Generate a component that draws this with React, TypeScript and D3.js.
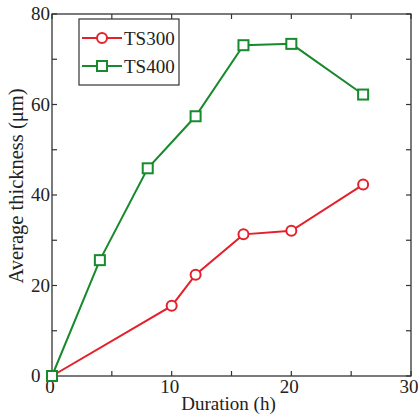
import React, { useRef, useEffect } from "react";
import * as d3 from "d3";

type Pt = { t: number; v: number };

const ts300Hours = [0, 10, 12, 16, 20, 26];
const ts300Values = [0, 15.5, 22.4, 31.3, 32.1, 42.3];
const ts400Hours = [0, 4, 8, 12, 16, 20, 26];
const ts400Values = [0, 25.6, 45.9, 57.4, 73.1, 73.4, 62.2];
const xTicks = [0, 10, 20, 30];
const yTicks = [0, 20, 40, 60, 80];

const W = 418;
const H = 416;
const margin = { top: 14, right: 7, bottom: 40, left: 52 };
const RED = "#e5202a";
const GREEN = "#168a2c";
const FONT = '"Liberation Serif", "DejaVu Serif", "Times New Roman", serif';

const App: React.FC = () => {
  const svgRef = useRef<SVGSVGElement | null>(null);

  useEffect(() => {
    if (!svgRef.current) return;
    const svg = d3.select(svgRef.current);
    svg.selectAll("*").remove();

    const innerWidth = W - margin.left - margin.right;
    const innerHeight = H - margin.top - margin.bottom;

    const x = d3.scaleLinear().domain([0, 30]).range([0, innerWidth]);
    const y = d3.scaleLinear().domain([0, 80]).range([innerHeight, 0]);

    const g = svg
      .append("g")
      .attr("transform", `translate(${margin.left},${margin.top})`);

    // frame
    g.append("rect")
      .attr("width", innerWidth)
      .attr("height", innerHeight)
      .attr("fill", "none")
      .attr("stroke", "#333")
      .attr("stroke-width", 1.3);

    // ticks (inward, all four sides)
    const xMinor = d3.range(0, 31, 5);
    const yMinor = d3.range(0, 81, 10);
    const tk = g.append("g").attr("stroke", "#333").attr("stroke-width", 1.2);
    xMinor.forEach((t) => {
      tk.append("line").attr("x1", x(t)).attr("x2", x(t)).attr("y1", innerHeight).attr("y2", innerHeight - 5);
      tk.append("line").attr("x1", x(t)).attr("x2", x(t)).attr("y1", 0).attr("y2", 5);
    });
    yMinor.forEach((t) => {
      tk.append("line").attr("y1", y(t)).attr("y2", y(t)).attr("x1", 0).attr("x2", 5);
      tk.append("line").attr("y1", y(t)).attr("y2", y(t)).attr("x1", innerWidth).attr("x2", innerWidth - 5);
    });

    const txt = (sel: d3.Selection<any, any, any, any>, size = 19) =>
      sel.style("font-family", FONT).style("font-size", `${size}px`).attr("fill", "#222");

    // tick labels
    g.selectAll(".xl")
      .data(xTicks)
      .enter()
      .append("text")
      .attr("x", (d) => x(d) - 2)
      .attr("y", innerHeight + 17)
      .attr("text-anchor", "middle")
      .call(txt)
      .text((d) => d);

    g.selectAll(".yl")
      .data(yTicks)
      .enter()
      .append("text")
      .attr("x", -21)
      .attr("y", (d) => y(d) + 6)
      .attr("text-anchor", "start")
      .call(txt)
      .text((d) => d);

    // axis titles
    g.append("text")
      .attr("x", innerWidth / 2 - 3)
      .attr("y", innerHeight + 34)
      .attr("text-anchor", "middle")
      .call(txt)
      .text("Duration (h)");

    g.append("text")
      .attr("transform", "rotate(-90)")
      .attr("x", -172)
      .attr("y", -29)
      .attr("text-anchor", "middle")
      .call(txt, 20.5)
      .text("Average thickness (μm)");

    const line = d3
      .line<Pt>()
      .x((d) => x(d.t))
      .y((d) => y(d.v));

    const s300: Pt[] = ts300Hours.map((t, i) => ({ t, v: ts300Values[i] }));
    const s400: Pt[] = ts400Hours.map((t, i) => ({ t, v: ts400Values[i] }));

    g.append("path")
      .datum(s300)
      .attr("fill", "none")
      .attr("stroke", RED)
      .attr("stroke-width", 2)
      .attr("d", line);
    g.append("path")
      .datum(s400)
      .attr("fill", "none")
      .attr("stroke", GREEN)
      .attr("stroke-width", 2)
      .attr("d", line);

    g.selectAll(".m300")
      .data(s300)
      .enter()
      .append("circle")
      .attr("cx", (d) => x(d.t))
      .attr("cy", (d) => y(d.v))
      .attr("r", 5)
      .attr("fill", "white")
      .attr("stroke", RED)
      .attr("stroke-width", 2);

    g.selectAll(".m400")
      .data(s400)
      .enter()
      .append("rect")
      .attr("x", (d) => x(d.t) - 5)
      .attr("y", (d) => y(d.v) - 5)
      .attr("width", 10)
      .attr("height", 10)
      .attr("fill", "white")
      .attr("stroke", GREEN)
      .attr("stroke-width", 2);

    // legend
    const lg = svg.append("g").attr("transform", "translate(79,19)");
    lg.append("rect")
      .attr("width", 100)
      .attr("height", 66)
      .attr("fill", "white")
      .attr("stroke", "#333")
      .attr("stroke-width", 1.2);
    const items = [
      { name: "TS300", color: RED, shape: "circle" },
      { name: "TS400", color: GREEN, shape: "square" },
    ];
    items.forEach((it, i) => {
      const cy = 19 + i * 28;
      lg.append("line")
        .attr("x1", 3)
        .attr("x2", 43)
        .attr("y1", cy)
        .attr("y2", cy)
        .attr("stroke", it.color)
        .attr("stroke-width", 2);
      if (it.shape === "circle") {
        lg.append("circle")
          .attr("cx", 23)
          .attr("cy", cy)
          .attr("r", 5)
          .attr("fill", "white")
          .attr("stroke", it.color)
          .attr("stroke-width", 2);
      } else {
        lg.append("rect")
          .attr("x", 18)
          .attr("y", cy - 5)
          .attr("width", 10)
          .attr("height", 10)
          .attr("fill", "white")
          .attr("stroke", it.color)
          .attr("stroke-width", 2);
      }
      lg.append("text")
        .attr("x", 45)
        .attr("y", cy + 7)
        .call(txt)
        .text(it.name);
    });
  }, []);

  return (
    <div style={{ position: "absolute", left: 0, top: 0, background: "white" }}>
      <svg ref={svgRef} width={W} height={H} style={{ display: "block" }} />
    </div>
  );
};

export default App;
